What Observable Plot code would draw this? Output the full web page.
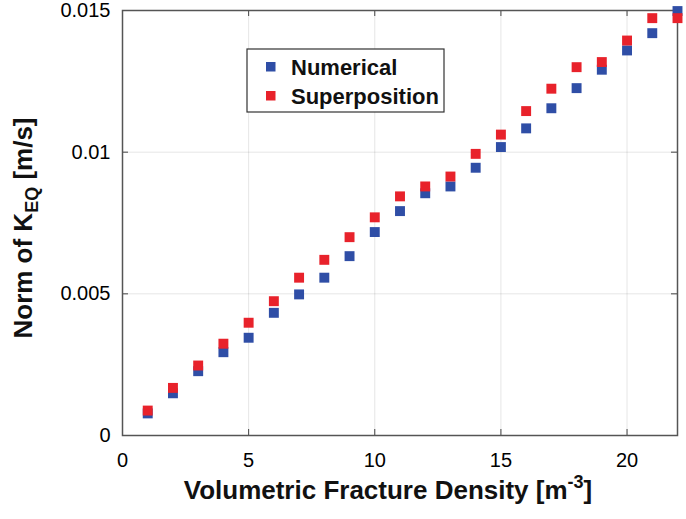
<!DOCTYPE html>
<html><head><meta charset="utf-8">
<script src="https://cdn.jsdelivr.net/npm/d3@7"></script>
<script src="https://cdn.jsdelivr.net/npm/@observablehq/plot@0.6"></script>
<style>body{margin:0;background:#fff}</style>
</head><body><div id="chart"></div>
<script>
const density = [1,2,3,4,5,6,7,8,9,10,11,12,13,14,15,16,17,18,19,20,21,22];
const numerical = [0.00078,0.00149,0.00227,0.00294,0.00345,0.00433,0.00498,0.00557,0.00633,0.00718,0.00792,0.00855,0.00879,0.00945,0.01018,0.01084,0.01155,0.01226,0.01291,0.01359,0.0142,0.01498];
const superposition = [0.00088,0.00168,0.00247,0.00324,0.00398,0.00474,0.00557,0.0062,0.0070,0.0077,0.00844,0.00879,0.00914,0.00994,0.01062,0.01145,0.01224,0.0130,0.01318,0.01394,0.01473,0.01473];
const seriesNames = ["Numerical","Superposition"];
const seriesColors = ["#2f4ea6","#e8222b"];
const xTicks = [0,5,10,15,20];
const yTicks = [0,0.005,0.01,0.015];

const rows = [];
density.forEach((d,i)=>rows.push({x:d, y:numerical[i], series:seriesNames[0]}));
density.forEach((d,i)=>rows.push({x:d, y:superposition[i], series:seriesNames[1]}));

const W = 686, H = 519, mL = 122, mR = 9, mT = 10, mB = 84;
const plotW = W - mL - mR, plotH = H - mT - mB;
const tickLen = 6;
const font = "'Liberation Sans', Arial, sans-serif";

const plot = Plot.plot({
  width: W, height: H,
  marginLeft: mL, marginRight: mR, marginTop: mT, marginBottom: mB,
  style: {fontFamily: font, fontSize: "20px", color: "#000", background: "#fff"},
  x: {domain: [0,22], label: null},
  y: {domain: [0,0.015], label: null},
  color: {domain: seriesNames, range: seriesColors},
  marks: [
    Plot.gridX(xTicks, {stroke: "#000", strokeOpacity: 0.1}),
    Plot.gridY(yTicks, {stroke: "#000", strokeOpacity: 0.1}),
    Plot.axisX(xTicks, {tickSize: 0, tickPadding: 17, fontSize: 20}),
    Plot.axisY(yTicks, {tickSize: 0, tickPadding: 12, fontSize: 20, tickFormat: d => String(d)}),
    Plot.tickX(xTicks, {x: d => d, insetTop: plotH - tickLen, stroke: "#444"}),
    Plot.tickX(xTicks, {x: d => d, insetBottom: plotH - tickLen, stroke: "#444"}),
    Plot.tickY(yTicks, {y: d => d, insetRight: plotW - tickLen, stroke: "#444"}),
    Plot.tickY(yTicks, {y: d => d, insetLeft: plotW - tickLen, stroke: "#444"}),
    Plot.frame({stroke: "#555", strokeWidth: 1.5}),
    Plot.dot(rows, {x: "x", y: "y", fill: "series", symbol: "square", r: 5.6})
  ]
});

const svg = d3.select(plot);
// legend
const lg = svg.append("g").attr("font-family", font).attr("text-anchor", "start");
lg.append("rect").attr("x", 247).attr("y", 49).attr("width", 197).attr("height", 63)
  .attr("fill", "#fff").attr("stroke", "#333").attr("stroke-width", 1.2);
seriesNames.forEach((name, i) => {
  lg.append("rect").attr("x", 266).attr("y", 62 + i * 29).attr("width", 9.5).attr("height", 9.5).attr("fill", seriesColors[i]);
  lg.append("text").attr("x", 291).attr("y", 75 + i * 29).attr("text-anchor", "start")
    .attr("font-weight", "bold").attr("font-size", 22).attr("fill", "#111").text(name);
});
// y label
const yl = svg.append("text").attr("transform", "translate(32,228) rotate(-90)")
  .attr("text-anchor", "middle").attr("font-weight", "bold").attr("font-size", 26)
  .attr("font-family", font).attr("fill", "#111");
yl.append("tspan").text("Norm of K");
yl.append("tspan").attr("font-size", 18).attr("dy", 6).text("EQ");
yl.append("tspan").attr("dy", -6).text(" [m/s]");
// x label
const xl = svg.append("text").attr("x", 388).attr("y", 499)
  .attr("text-anchor", "middle").attr("font-weight", "bold").attr("font-size", 26)
  .attr("font-family", font).attr("fill", "#111");
xl.append("tspan").text("Volumetric Fracture Density [m");
xl.append("tspan").attr("font-size", 18).attr("dy", -11).text("-3");
xl.append("tspan").attr("dy", 11).text("]");

document.getElementById("chart").append(plot);
</script>
</body></html>
